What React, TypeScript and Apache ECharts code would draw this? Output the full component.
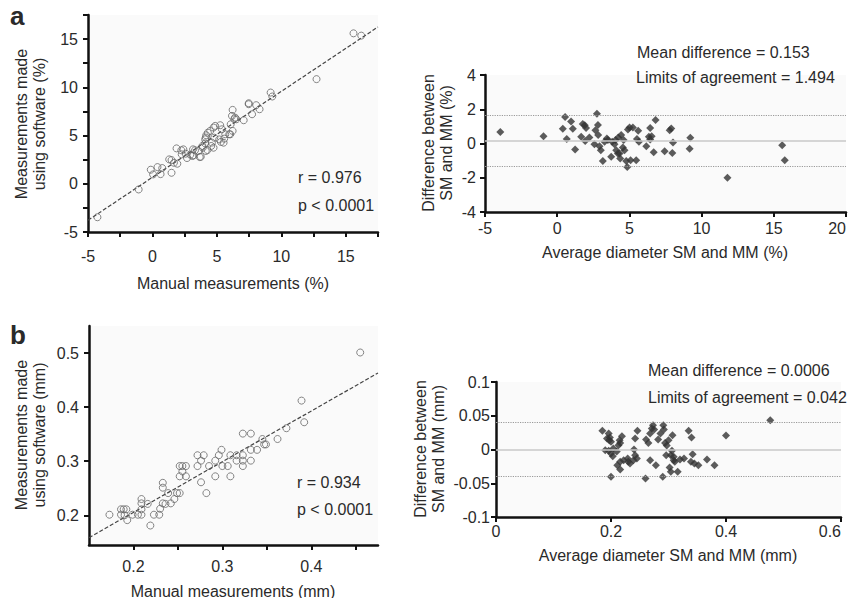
import React, { useEffect, useRef } from "react";
import * as echarts from "echarts";

// ---- Panel a: % measurements ----
const manualPct = [-4.27, -1.07, -0.13, 0.05, 0.39, 0.63, 0.76, 1.3, 1.48, 1.48, 1.67, 1.93, 1.87, 2.27, 2.4, 2.58, 2.68, 2.94, 3.18, 3.3, 3.56, 3.75, 3.9, 4.09, 4.09, 4.17, 4.3, 4.48, 4.27, 4.56, 4.74, 4.87, 5.26, 4.8, 5.39, 5.52, 5.57, 5.65, 6.04, 6.22, 6.07, 6.17, 6.22, 6.41, 6.51, 7.08, 7.47, 7.47, 7.73, 8.05, 8.31, 9.17, 9.3, 12.73, 15.6, 16.2, 2.24, 3.1, 3.15, 3.67, 3.88, 4.14, 4.74, 4.61, 4.14, 5.18, 5.31, 5.96, 6.35];
const softwarePct = [-3.47, -0.59, 1.46, 0.97, 1.73, 1.0, 1.63, 2.53, 1.14, 2.46, 2.18, 2.08, 3.67, 3.05, 3.57, 3.12, 2.67, 3.02, 2.95, 3.47, 3.4, 2.8, 3.74, 4.19, 4.61, 5.03, 5.3, 5.48, 3.5, 3.92, 3.74, 6.0, 6.07, 4.78, 5.65, 4.26, 4.68, 5.13, 5.13, 5.48, 6.17, 7.04, 7.66, 6.86, 6.69, 6.59, 8.35, 8.25, 7.21, 8.15, 7.73, 9.46, 9.05, 10.85, 15.6, 15.36, 3.47, 2.88, 3.57, 2.77, 3.92, 4.79, 5.83, 4.27, 3.4, 4.6, 4.34, 5.14, 6.7];
const fitPct = { slope: 0.891, intercept: 0.67 };

const avgPct = [-3.94, -0.95, 0.39, 0.55, 0.66, 0.96, 1.08, 1.24, 1.66, 1.77, 1.91, 1.94, 2.0, 2.23, 2.58, 2.65, 2.75, 2.82, 2.84, 2.93, 3.02, 3.16, 3.28, 3.44, 3.51, 3.74, 3.81, 3.97, 4.04, 4.09, 4.2, 4.23, 4.32, 4.36, 4.43, 4.55, 4.6, 4.66, 4.78, 4.85, 4.9, 5.01, 5.08, 5.24, 5.47, 5.52, 5.61, 5.66, 6.17, 6.35, 6.44, 6.44, 6.54, 6.68, 6.81, 7.44, 7.79, 7.9, 7.97, 8.02, 9.17, 9.22, 11.79, 15.58, 15.76];
const diffPct = [0.67, 0.43, 0.86, 1.55, 0.27, 1.29, 0.86, -0.35, 0.39, 1.14, 1.06, 0.14, 0.9, 0.35, -0.04, 0.78, 1.73, 1.08, 0.49, -0.16, -0.39, -1.02, 0.1, 0.29, 0.2, -0.78, 0.1, -0.04, 0.2, -0.39, -0.59, 0.35, -0.59, -0.88, 0.49, -0.24, 0.2, -0.39, -1.02, -1.37, 0.82, 0.94, -0.98, 0.94, -0.98, 0.27, 0.75, 0.1, -0.16, 0.39, 0.9, 0.24, 0.43, -0.51, 1.37, -0.45, 0.78, 0.88, -0.55, 0.06, -0.31, 0.33, -2.0, -0.1, -0.98];
const meanDiffPct = 0.153;
const limitsPct = 1.494;

// ---- Panel b: mm measurements ----
const manualMm = [0.173, 0.186, 0.186, 0.189, 0.192, 0.193, 0.19, 0.199, 0.205, 0.209, 0.209, 0.209, 0.209, 0.216, 0.219, 0.223, 0.229, 0.23, 0.233, 0.233, 0.233, 0.236, 0.239, 0.242, 0.246, 0.249, 0.252, 0.252, 0.252, 0.255, 0.255, 0.259, 0.259, 0.276, 0.272, 0.272, 0.276, 0.279, 0.282, 0.285, 0.292, 0.292, 0.296, 0.299, 0.3, 0.306, 0.309, 0.309, 0.316, 0.316, 0.323, 0.323, 0.323, 0.323, 0.332, 0.332, 0.332, 0.339, 0.345, 0.347, 0.349, 0.362, 0.372, 0.389, 0.392, 0.455];
const softwareMm = [0.201, 0.211, 0.201, 0.211, 0.211, 0.191, 0.2, 0.201, 0.201, 0.201, 0.211, 0.222, 0.23, 0.221, 0.181, 0.201, 0.201, 0.212, 0.222, 0.251, 0.26, 0.221, 0.241, 0.222, 0.23, 0.241, 0.241, 0.272, 0.291, 0.291, 0.281, 0.291, 0.272, 0.261, 0.291, 0.311, 0.301, 0.311, 0.241, 0.291, 0.272, 0.301, 0.311, 0.321, 0.291, 0.291, 0.311, 0.272, 0.311, 0.301, 0.311, 0.301, 0.291, 0.351, 0.351, 0.321, 0.301, 0.321, 0.341, 0.331, 0.331, 0.341, 0.361, 0.412, 0.372, 0.501];
const fitMm = { slope: 0.937, intercept: 0.018 };

const avgMm = [0.185, 0.196, 0.198, 0.193, 0.197, 0.2, 0.19, 0.196, 0.204, 0.2, 0.203, 0.21, 0.213, 0.216, 0.219, 0.215, 0.2, 0.211, 0.216, 0.216, 0.222, 0.229, 0.23, 0.233, 0.239, 0.242, 0.245, 0.24, 0.242, 0.246, 0.261, 0.26, 0.265, 0.268, 0.271, 0.273, 0.275, 0.268, 0.278, 0.282, 0.286, 0.29, 0.291, 0.292, 0.294, 0.297, 0.3, 0.306, 0.304, 0.309, 0.307, 0.296, 0.302, 0.309, 0.311, 0.316, 0.304, 0.32, 0.327, 0.335, 0.34, 0.342, 0.339, 0.345, 0.352, 0.367, 0.38, 0.4, 0.477];
const diffMm = [0.0276, 0.0237, 0.0178, 0.0163, 0.0138, 0.0114, -0.001, -0.002, 0.0015, -0.006, -0.01, -0.003, 0.0064, 0.0098, 0.0197, 0.0138, -0.0405, -0.0232, -0.0296, -0.0183, -0.0158, -0.0133, -0.0183, -0.0207, -0.0158, -0.0084, -0.0133, 0.0, 0.0163, 0.0276, 0.0148, -0.043, 0.0098, 0.0237, 0.0311, 0.036, 0.0296, -0.0158, -0.0232, 0.0148, 0.0237, -0.0405, 0.036, 0.0296, 0.0098, 0.0059, 0.0138, -0.002, -0.0084, -0.0108, 0.0212, -0.0084, -0.0267, -0.0158, -0.0183, -0.0331, -0.0331, -0.0148, -0.0133, 0.0276, 0.0178, -0.0069, -0.0183, -0.0207, -0.0232, -0.0148, -0.0232, 0.0207, 0.0434];
const meanDiffMm = 0.0006;
const limitsMm = 0.042;

const FONT = "'Liberation Sans', Arial, Helvetica, sans-serif";
const TXT = "#2a2a2a";

const zip = (xs: number[], ys: number[]) => xs.map((x, i) => [x, ys[i]]);

function axisBase(extra: any) {
  return {
    type: "value",
    splitLine: { show: false },
    axisLine: { show: true, onZero: false, lineStyle: { color: "#111", width: 2.5 } },
    axisTick: { show: true, inside: false, length: 5, lineStyle: { color: "#111", width: 2 } },
    axisLabel: { color: TXT, fontSize: 16, fontFamily: FONT },
    ...extra,
  };
}

function baLines(mean: number, loa: number) {
  return {
    silent: true,
    symbol: "none",
    label: { show: false },
    data: [
      { yAxis: mean, lineStyle: { type: "solid", color: "#c8c8c8", width: 1.5 } },
      { yAxis: mean + loa, lineStyle: { type: "dotted", color: "#9a9a9a", width: 1.2 } },
      { yAxis: mean - loa, lineStyle: { type: "dotted", color: "#9a9a9a", width: 1.2 } },
    ],
  };
}

function text(x: number, y: number, s: string, opts: any = {}) {
  const align = opts.align || "left";
  return {
    type: "text",
    x,
    y,
    rotation: opts.rotation || 0,
    silent: true,
    style: {
      text: s,
      fill: TXT,
      fontSize: opts.fontSize || 16,
      fontWeight: opts.fontWeight || "normal",
      fontFamily: FONT,
      lineHeight: 18,
      textAlign: align,
      align,
      textVerticalAlign: "middle",
      verticalAlign: "middle",
    },
  };
}

export default function App() {
  const ref = useRef<HTMLDivElement>(null);
  useEffect(() => {
    if (!ref.current) return;
    const chart = echarts.init(ref.current, undefined, { renderer: "svg" });
    const fitLine = (f: { slope: number; intercept: number }, x0: number, x1: number) => [
      [x0, f.intercept + f.slope * x0],
      [x1, f.intercept + f.slope * x1],
    ];
    const gridBg = { show: true, backgroundColor: "#fafafa", borderWidth: 0, outerBoundsMode: "none", containLabel: false };
    const option: any = {
      animation: false,
      backgroundColor: "#ffffff",
      textStyle: { fontFamily: FONT },
      grid: [
        { left: 88, top: 15, width: 290, height: 217, ...gridBg },
        { left: 485, top: 75, width: 361, height: 137, ...gridBg },
        { left: 89, top: 326, width: 289, height: 219, ...gridBg },
        { left: 496, top: 382, width: 345, height: 135, ...gridBg },
      ],
      xAxis: [
        axisBase({
          gridIndex: 0, min: -5, max: 17.5, interval: 2.5,
          axisLabel: { color: TXT, fontSize: 16, fontFamily: FONT, margin: 16, formatter: (v: number) => (Math.abs(v % 5) < 1e-6 && v <= 15 ? String(v) : "") },
        }),
        axisBase({
          gridIndex: 1, min: -5, max: 20, interval: 5,
          axisLabel: { color: TXT, fontSize: 16, fontFamily: FONT, margin: 8, alignMaxLabel: "right" },
        }),
        axisBase({
          gridIndex: 2, min: 0.15, max: 0.475,
          axisTick: { show: true, length: 5, lineStyle: { color: "#111", width: 2 }, customValues: [0.2, 0.25, 0.3, 0.35, 0.4, 0.45] },
          axisLabel: { color: TXT, fontSize: 16, fontFamily: FONT, margin: 13, customValues: [0.2, 0.3, 0.4], formatter: (v: number) => v.toFixed(1) },
        }),
        axisBase({
          gridIndex: 3, min: 0, max: 0.6, interval: 0.2,
          axisLabel: { color: TXT, fontSize: 16, fontFamily: FONT, margin: 6, alignMaxLabel: "right", formatter: (v: number) => (v === 0 ? "0" : v.toFixed(1)) },
        }),
      ],
      yAxis: [
        axisBase({
          gridIndex: 0, min: -5, max: 17.5, interval: 2.5,
          axisLabel: { color: TXT, fontSize: 16, fontFamily: FONT, margin: 10, formatter: (v: number) => (Math.abs(v % 5) < 1e-6 && v <= 15 ? String(v) : "") },
        }),
        axisBase({
          gridIndex: 1, min: -4, max: 4, interval: 2,
          axisLabel: { color: TXT, fontSize: 16, fontFamily: FONT, margin: 9 },
        }),
        axisBase({
          gridIndex: 2, min: 0.145, max: 0.55,
          axisTick: { show: true, length: 5, lineStyle: { color: "#111", width: 2 }, customValues: [0.2, 0.3, 0.4, 0.5] },
          axisLabel: { color: TXT, fontSize: 16, fontFamily: FONT, margin: 10, customValues: [0.2, 0.3, 0.4, 0.5], formatter: (v: number) => v.toFixed(1) },
        }),
        axisBase({
          gridIndex: 3, min: -0.1, max: 0.1, interval: 0.05,
          axisLabel: { color: TXT, fontSize: 16, fontFamily: FONT, margin: 6, formatter: (v: number) => (Math.abs(v) < 1e-9 ? "0" : String(Math.round(v * 100) / 100)) },
        }),
      ],
      series: [
        {
          type: "line", xAxisIndex: 0, yAxisIndex: 0, data: fitLine(fitPct, -5, 17.5),
          symbol: "none", lineStyle: { color: "#444", width: 1.2, type: [4, 2] }, z: 1,
        },
        {
          type: "scatter", xAxisIndex: 0, yAxisIndex: 0, data: zip(manualPct, softwarePct),
          symbol: "circle", symbolSize: 7,
          itemStyle: { color: "rgba(255,255,255,0)", borderColor: "#666", borderWidth: 1 }, z: 2,
        },
        {
          type: "scatter", xAxisIndex: 1, yAxisIndex: 1, data: zip(avgPct, diffPct),
          symbol: "diamond", symbolSize: 8, itemStyle: { color: "#333" },
          markLine: baLines(meanDiffPct, limitsPct), z: 2,
        },
        {
          type: "line", xAxisIndex: 2, yAxisIndex: 2, data: fitLine(fitMm, 0.15, 0.475),
          symbol: "none", lineStyle: { color: "#444", width: 1.2, type: [4, 2] }, z: 1,
        },
        {
          type: "scatter", xAxisIndex: 2, yAxisIndex: 2, data: zip(manualMm, softwareMm),
          symbol: "circle", symbolSize: 7,
          itemStyle: { color: "rgba(255,255,255,0)", borderColor: "#666", borderWidth: 1 }, z: 2,
        },
        {
          type: "scatter", xAxisIndex: 3, yAxisIndex: 3, data: zip(avgMm, diffMm),
          symbol: "diamond", symbolSize: 8, itemStyle: { color: "#333" },
          markLine: baLines(meanDiffMm, limitsMm), z: 2,
        },
      ],
      graphic: [
        text(10, 16, "a", { fontSize: 26, fontWeight: "bold" }),
        text(10, 335, "b", { fontSize: 26, fontWeight: "bold" }),
        text(30, 124, "Measurements made\nusing software (%)", { align: "center", rotation: Math.PI / 2 }),
        text(233, 283, "Manual measurements (%)", { align: "center" }),
        text(298, 177, "r = 0.976"),
        text(298, 205, "p < 0.0001"),
        text(437, 143, "Difference between\nSM and MM (%)", { align: "center", rotation: Math.PI / 2 }),
        text(665, 252, "Average diameter SM and MM (%)", { align: "center" }),
        text(637, 52, "Mean difference = 0.153"),
        text(636, 77, "Limits of agreement = " + limitsPct.toFixed(3)),
        text(30, 435, "Measurements made\nusing software (mm)", { align: "center", rotation: Math.PI / 2 }),
        text(233, 591, "Manual measurements (mm)", { align: "center" }),
        text(297, 482, "r = 0.934"),
        text(297, 509, "p < 0.0001"),
        text(429, 449, "Difference between\nSM and MM (mm)", { align: "center", rotation: Math.PI / 2 }),
        text(668, 555, "Average diameter SM and MM (mm)", { align: "center" }),
        text(648, 370, "Mean difference = " + String(meanDiffMm)),
        text(648, 397, "Limits of agreement = " + String(limitsMm)),
      ],
    };
    chart.setOption(option);
    return () => chart.dispose();
  }, []);
  return <div ref={ref} style={{ position: "fixed", left: 0, top: 0, width: 850, height: 598 }} />;
}
